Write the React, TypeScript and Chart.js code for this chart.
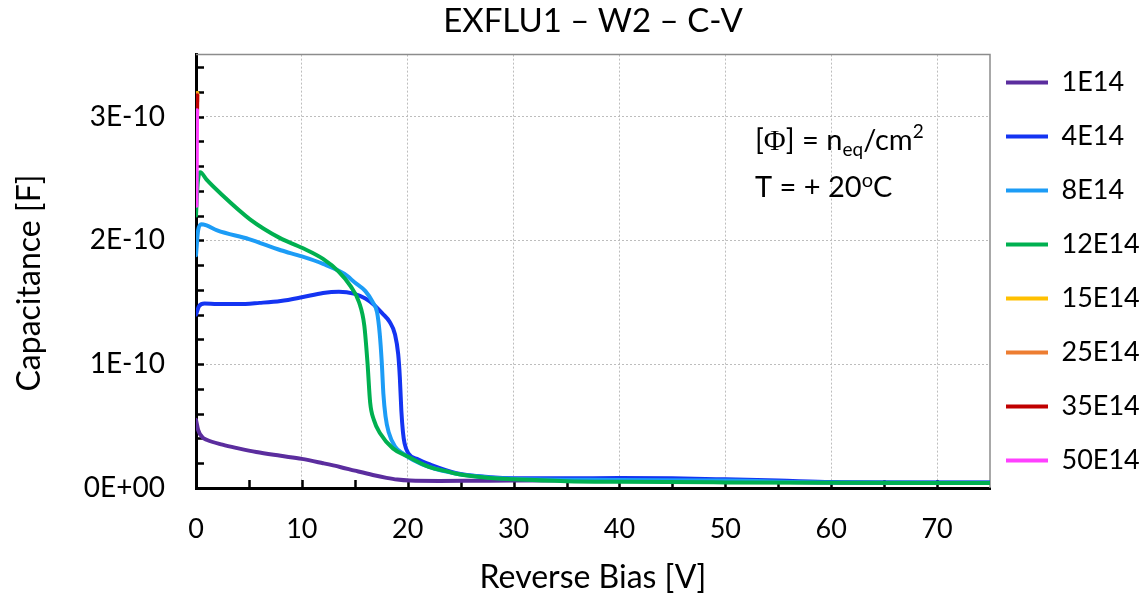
import React, { useEffect, useRef } from 'react';
import { Chart, registerables } from 'chart.js';

Chart.register(...registerables);

const TITLE = 'EXFLU1 – W2 – C-V';
const X_TITLE = 'Reverse Bias [V]';
const Y_TITLE = 'Capacitance [F]';
const SERIES_LABELS = ['1E14', '4E14', '8E14', '12E14', '15E14', '25E14', '35E14', '50E14'];
const SERIES_COLORS = ['#5b2d9e', '#1434f2', '#1c9cf6', '#00b050', '#ffc000', '#ed7d31', '#c00000', '#ff40ff'];
const Y_TICK_LABELS = ['0E+00', '1E-10', '2E-10', '3E-10'];

// Reverse bias [V] and capacitance [F] per fluence
const V_1E14 = [0, 0.2, 0.6, 1, 2.5, 4, 5.7, 8, 10, 12, 13.6, 15, 16.7, 18, 19, 20.2, 23, 26, 30, 40, 50, 60, 75];
const C_1E14 = [0.55e-10, 0.47e-10, 0.41e-10, 0.39e-10, 0.35e-10, 0.32e-10, 0.29e-10, 0.26e-10, 0.235e-10, 0.2e-10, 0.17e-10, 0.14e-10, 0.105e-10, 0.082e-10, 0.068e-10, 0.06e-10, 0.057e-10, 0.058e-10, 0.06e-10, 0.062e-10, 0.055e-10, 0.045e-10, 0.043e-10];

const V_4E14 = [0, 0.3, 0.8, 2, 4, 6, 8, 10, 12, 13.5, 14.9, 16, 16.8, 17.6, 18.3, 18.8, 19.1, 19.25, 19.4, 19.55, 19.7, 20.05, 21, 22.1, 24.6, 27.8, 30, 35, 40, 45, 50, 55, 60, 65, 75];
const C_4E14 = [1.4e-10, 1.47e-10, 1.49e-10, 1.485e-10, 1.485e-10, 1.495e-10, 1.51e-10, 1.54e-10, 1.575e-10, 1.585e-10, 1.57e-10, 1.53e-10, 1.48e-10, 1.41e-10, 1.34e-10, 1.24e-10, 1.08e-10, 0.9e-10, 0.62e-10, 0.45e-10, 0.36e-10, 0.28e-10, 0.23e-10, 0.19e-10, 0.12e-10, 0.087e-10, 0.078e-10, 0.078e-10, 0.08e-10, 0.078e-10, 0.07e-10, 0.06e-10, 0.048e-10, 0.045e-10, 0.045e-10];

const V_8E14 = [0, 0.2, 0.5, 1, 2, 5, 8, 10, 12, 14, 15, 16, 16.7, 17.1, 17.35, 17.55, 17.7, 17.9, 18.2, 18.8, 19.6, 20.5, 22, 24.6, 27.8, 30, 40, 50, 60, 75];
const C_8E14 = [1.88e-10, 2.08e-10, 2.13e-10, 2.12e-10, 2.08e-10, 2.01e-10, 1.92e-10, 1.87e-10, 1.81e-10, 1.73e-10, 1.66e-10, 1.59e-10, 1.5e-10, 1.42e-10, 1.25e-10, 1.01e-10, 0.76e-10, 0.58e-10, 0.45e-10, 0.335e-10, 0.275e-10, 0.227e-10, 0.17e-10, 0.115e-10, 0.085e-10, 0.075e-10, 0.065e-10, 0.06e-10, 0.045e-10, 0.043e-10];

const V_12E14 = [0, 0.15, 0.4, 1, 2.3, 5.1, 7.9, 10, 12, 13.45, 14.6, 15.4, 15.9, 16.2, 16.45, 16.8, 17.4, 18.6, 20, 22, 23.9, 24.6, 27.8, 30, 35, 40, 50, 60, 75];
const C_12E14 = [2.2e-10, 2.45e-10, 2.55e-10, 2.49e-10, 2.38e-10, 2.17e-10, 2.02e-10, 1.94e-10, 1.85e-10, 1.75e-10, 1.63e-10, 1.5e-10, 1.31e-10, 1.01e-10, 0.69e-10, 0.55e-10, 0.44e-10, 0.32e-10, 0.254e-10, 0.17e-10, 0.13e-10, 0.115e-10, 0.08e-10, 0.07e-10, 0.055e-10, 0.05e-10, 0.045e-10, 0.042e-10, 0.04e-10];

const V_15E14 = [0.12, 0.13];
const C_15E14 = [3.17e-10, 3.19e-10];

const V_25E14 = [0.11, 0.12];
const C_25E14 = [3.12e-10, 3.18e-10];

const V_35E14 = [0.1, 0.12];
const C_35E14 = [3.0e-10, 3.17e-10];

const V_50E14 = [0.05, 0.1];
const C_50E14 = [2.28e-10, 3.05e-10];

const SERIES_V = [V_1E14, V_4E14, V_8E14, V_12E14, V_15E14, V_25E14, V_35E14, V_50E14];
const SERIES_C = [C_1E14, C_4E14, C_8E14, C_12E14, C_15E14, C_25E14, C_35E14, C_50E14];

const FONT = 'Lato';

function drawRuns(ctx: CanvasRenderingContext2D, x: number, baseline: number, runs: Array<{ t: string; size: number; dy: number; family?: string }>) {
  let cx = x;
  for (const r of runs) {
    ctx.font = `${r.size}px ${r.family || FONT}`;
    ctx.fillText(r.t, cx, baseline + r.dy);
    cx += ctx.measureText(r.t).width;
  }
}

const framePlugin = {
  id: 'frame',
  afterLayout(chart: any) {
    const lg = chart.legend;
    if (lg) {
      const shift = 11;
      lg.left = chart.chartArea.right - shift;
      lg.right = chart.width;
      lg.width = lg.right - lg.left;
      lg.top = 42;
    }
  },
  beforeDatasetsDraw(chart: any) {
    const { ctx, chartArea: a, scales } = chart;
    const x = scales.x;
    const y = scales.y;
    ctx.save();
    ctx.strokeStyle = '#8c8c8c';
    ctx.lineWidth = 1.5;
    ctx.beginPath();
    ctx.moveTo(a.left, a.top);
    ctx.lineTo(a.right, a.top);
    ctx.lineTo(a.right, a.bottom);
    ctx.stroke();

    ctx.strokeStyle = '#000';
    ctx.lineWidth = 2.5;
    ctx.beginPath();
    for (let i = 1; i < 18; i++) {
      const py = Math.round(y.getPixelForValue(i * 0.2e-10)) + 0.5;
      ctx.moveTo(a.left, py);
      ctx.lineTo(a.left + 8, py);
    }
    for (let i = 1; i <= 14; i++) {
      const px = Math.round(x.getPixelForValue(i * 5)) + 0.5;
      ctx.moveTo(px, a.bottom);
      ctx.lineTo(px, a.bottom - 8);
    }
    ctx.stroke();
    ctx.restore();
  },
  afterDraw(chart: any) {
    const { ctx } = chart;
    ctx.save();
    ctx.fillStyle = '#000';
    // y axis title
    ctx.translate(30, 283);
    ctx.rotate(-Math.PI / 2);
    ctx.textAlign = 'center';
    ctx.textBaseline = 'middle';
    ctx.font = `32px ${FONT}`;
    ctx.fillText(Y_TITLE, 0, 0);
    ctx.restore();

    ctx.save();
    ctx.fillStyle = '#000';
    ctx.textAlign = 'left';
    ctx.textBaseline = 'alphabetic';
    drawRuns(ctx, 755, 150, [
      { t: '[', size: 29, dy: 0 },
      { t: 'Φ', size: 30, dy: 0, family: 'Liberation Serif' },
      { t: '] = n', size: 29, dy: 0 },
      { t: 'eq', size: 19, dy: 6 },
      { t: '/cm', size: 29, dy: 0 },
      { t: '2', size: 19, dy: -12 },
    ]);
    drawRuns(ctx, 755, 197, [
      { t: 'T = + 20', size: 29, dy: 0 },
      { t: 'o', size: 20, dy: -10 },
      { t: 'C', size: 29, dy: 0 },
    ]);
    ctx.restore();
  },
};

export default function App() {
  const canvasRef = useRef<HTMLCanvasElement | null>(null);

  useEffect(() => {
    if (!canvasRef.current) return;
    Chart.defaults.color = '#000';
    Chart.defaults.font.family = FONT;

    const datasets = SERIES_LABELS.map((label, i) => ({
      label,
      data: SERIES_V[i].map((v, j) => ({ x: v, y: SERIES_C[i][j] })),
      borderColor: SERIES_COLORS[i],
      backgroundColor: SERIES_COLORS[i],
      borderWidth: 4,
      borderCapStyle: 'round' as const,
      borderJoinStyle: 'round' as const,
      pointRadius: 0,
      pointHoverRadius: 0,
      cubicInterpolationMode: 'monotone' as const,
      fill: false,
      order: SERIES_LABELS.length - i,
    }));

    const chart = new Chart(canvasRef.current, {
      type: 'line',
      data: { datasets },
      plugins: [framePlugin],
      options: {
        animation: false,
        responsive: false,
        devicePixelRatio: 1,
        parsing: false as any,
        layout: { padding: 0 },
        plugins: {
          title: {
            display: true,
            text: TITLE,
            fullSize: false,
            font: { size: 33, weight: 'normal', family: FONT },
            color: '#000',
            padding: { top: 2, bottom: 13 },
          },
          legend: {
            display: true,
            position: 'right',
            align: 'start',
            fullSize: true,
            maxWidth: 155,
            labels: {
              usePointStyle: true,
              pointStyle: 'line',
              pointStyleWidth: 42,
              padding: 27,
              font: { size: 27, family: FONT },
              color: '#000',
              sort: (a: any, b: any) => a.datasetIndex - b.datasetIndex,
            },
          },
          tooltip: { enabled: false },
        },
        scales: {
          x: {
            type: 'linear',
            min: 0,
            max: 75,
            afterFit: (s: any) => { s.height = 109; },
            ticks: {
              stepSize: 10,
              includeBounds: false,
              padding: 25,
              font: { size: 27, family: FONT },
              color: '#000',
              maxRotation: 0,
            },
            grid: {
              drawTicks: false,
              color: (c: any) => (c.tick && c.tick.value === 0 ? 'rgba(0,0,0,0)' : '#bdbdbd'),
              lineWidth: 1,
            },
            border: { display: true, color: '#000', width: 3, dash: [2, 2] },
            title: {
              display: true,
              text: X_TITLE,
              font: { size: 32, family: FONT },
              color: '#000',
              padding: { top: 0, bottom: 0 },
            },
          },
          y: {
            type: 'linear',
            min: 0,
            max: 3.5e-10,
            afterFit: (s: any) => { s.width = 196; },
            ticks: {
              stepSize: 1e-10,
              includeBounds: false,
              padding: 31,
              font: { size: 28, family: FONT },
              color: '#000',
              callback: (v: any) => Y_TICK_LABELS[Math.round(Number(v) / 1e-10)] ?? '',
            },
            grid: {
              drawTicks: false,
              color: (c: any) => (c.tick && c.tick.value === 0 ? 'rgba(0,0,0,0)' : '#bdbdbd'),
              lineWidth: 1,
            },
            border: { display: true, color: '#000', width: 3, dash: [2, 2] },
          },
        },
      },
    } as any);

    return () => chart.destroy();
  }, []);

  return (
    <div style={{ position: 'fixed', left: 0, top: 0, width: 1145, height: 597, background: '#fff' }}>
      <canvas ref={canvasRef} width={1145} height={597} style={{ display: 'block' }} />
    </div>
  );
}
